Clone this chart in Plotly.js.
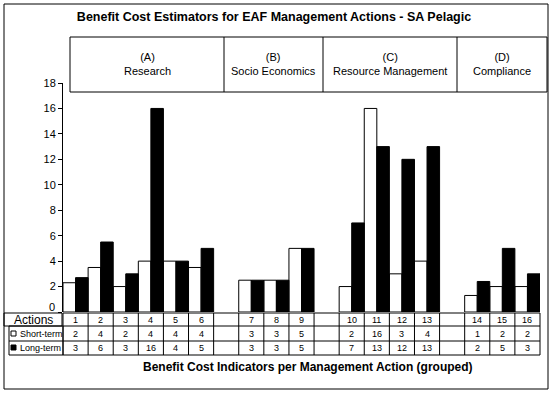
<!DOCTYPE html>
<html><head><meta charset="utf-8">
<script src="https://cdn.plot.ly/plotly-3.0.1.min.js"></script>
<style>html,body{margin:0;padding:0;background:#fff}#chart{width:553px;height:393px}</style>
</head><body><div id="chart"></div>
<script>
// ---- data ----
const chartTitle = 'Benefit Cost Estimators for EAF Management Actions - SA Pelagic';
const xTitle = 'Benefit Cost Indicators per Management Action (grouped)';
const groupCodes = ['(A)', '(B)', '(C)', '(D)'];
const groupNames = ['Research', 'Socio Economics', 'Resource Management', 'Compliance'];
const groupSizes = [6, 3, 4, 3];
const actions = ['1','2','3','4','5','6','7','8','9','10','11','12','13','14','15','16'];
const shortTerm = [2.3, 3.5, 2, 4, 4, 3.5, 2.5, 2.5, 5, 2, 16, 3, 4, 1.3, 2, 2];
const longTerm  = [2.7, 5.5, 3, 16, 4, 5, 2.5, 2.5, 5, 7, 13, 12, 13, 2.4, 5, 3];
const shortLabels = ['2','4','2','4','4','4','3','3','5','2','16','3','4','1','2','2'];
const longLabels  = ['3','6','3','16','4','5','3','3','5','7','13','12','13','2','5','3'];
const seriesNames = ['Short-term', 'Long-term'];
const rowHeader = 'Actions';
const yTicks = [0,2,4,6,8,10,12,14,16,18];
const yTickText = ['0','2','4','6','8','10','12','14','16','18'];

// ---- geometry ----
const W = 553, H = 393;
const M = {l: 63, r: 13, t: 83, b: 81};
const PW = W - M.l - M.r, PH = H - M.t - M.b;
const px = v => (v - M.l) / PW;
const py = v => (H - M.b - v) / PH;
const FONT = 'Arial, "Liberation Sans", sans-serif';

// slot positions: one empty slot between groups
const slots = [];
let s = 0;
groupSizes.forEach(n => { for (let i = 0; i < n; i++) { slots.push(s); s++; } s++; });
const nSlots = s - 1;

const traces = [
  {type: 'bar', x: slots, y: shortTerm, name: seriesNames[0],
   marker: {color: '#ffffff', line: {color: '#000', width: 1}}, hoverinfo: 'y'},
  {type: 'bar', x: slots, y: longTerm, name: seriesNames[1],
   marker: {color: '#000000', line: {color: '#000', width: 1}}, hoverinfo: 'y'}
];

const shapes = [];
const annotations = [];
const line = {color: '#000', width: 1};
const rectP = (x0, y0, x1, y1, fill) => shapes.push({type: 'rect', xref: 'paper', yref: 'paper',
  x0: px(x0), x1: px(x1), y0: py(y0), y1: py(y1), line: line, fillcolor: fill || 'rgba(0,0,0,0)'});
const lineP = (x0, y0, x1, y1) => shapes.push({type: 'line', xref: 'paper', yref: 'paper',
  x0: px(x0), x1: px(x1), y0: py(y0), y1: py(y1), line: line});

// outer border
rectP(4, 4, 548, 389);
// header box with group cells
const hdrTop = 37, hdrBot = 92, hdrLeft = 70, hdrRight = 547;
const hdrDiv = [224, 323, 457];
rectP(hdrLeft, hdrTop, hdrRight, hdrBot);
hdrDiv.forEach(d => lineP(d, hdrTop, d, hdrBot));
const edges = [hdrLeft].concat(hdrDiv, [hdrRight]);
groupCodes.forEach((c, i) => annotations.push({xref: 'paper', yref: 'paper',
  x: px((edges[i] + edges[i + 1]) / 2), y: py(64), xanchor: 'center', yanchor: 'middle',
  text: c + '<br>' + groupNames[i], showarrow: false, font: {family: FONT, size: 11, color: '#000'}}));

// data table
const rows = [313, 326, 341, 355];
const tblL = 63, tblR = 540;
rows.forEach(r => lineP(tblL, r, tblR, r));
lineP(tblL, rows[0], tblL, rows[3]);
lineP(tblR, rows[0], tblR, rows[3]);
for (let k = 1; k < nSlots; k++) {
  shapes.push({type: 'line', xref: 'x', yref: 'paper', x0: k - 0.5, x1: k - 0.5,
    y0: py(rows[0]), y1: py(rows[3]), line: line});
}
rectP(4, rows[0], 62, rows[1]);
rectP(9, rows[1], tblL, rows[3]);
lineP(9, rows[2], tblL, rows[2]);
// legend keys
rectP(11, 331, 16, 336, '#ffffff');
rectP(11, 345, 16, 350, '#000000');
annotations.push({xref: 'paper', yref: 'paper', x: px(33), y: py(320), xanchor: 'center', yanchor: 'middle',
  text: rowHeader, showarrow: false, font: {family: FONT, size: 12, color: '#000'}});
seriesNames.forEach((n, i) => annotations.push({xref: 'paper', yref: 'paper', x: px(17.5),
  y: py(i === 0 ? 333.5 : 348), xanchor: 'left', yanchor: 'middle', text: n, showarrow: false,
  font: {family: FONT, size: 9, color: '#000'}}));
const rowY = [319.5, 333.5, 348];
const rowText = [actions, shortLabels, longLabels];
rowText.forEach((arr, r) => arr.forEach((t, i) => annotations.push({xref: 'x', yref: 'paper',
  x: slots[i], y: py(rowY[r]), xanchor: 'center', yanchor: 'middle', text: t, showarrow: false,
  font: {family: FONT, size: 9, color: '#000'}})));

// zero tick label sits just above the "Actions" box (as in the original)
annotations.push({xref: 'paper', yref: 'paper', x: px(57), y: py(306.5), xanchor: 'right', yanchor: 'middle',
  text: yTickText[0], showarrow: false, font: {family: FONT, size: 11, color: '#000'}});

// x-axis title below the table
annotations.push({xref: 'paper', yref: 'paper', x: px(308), y: py(367), xanchor: 'center', yanchor: 'middle',
  text: '<b>' + xTitle + '</b>', showarrow: false, font: {family: FONT, size: 12, color: '#000'}});

const layout = {
  width: W, height: H, margin: M,
  paper_bgcolor: '#fff', plot_bgcolor: '#fff',
  showlegend: false,
  barmode: 'group', bargap: 0, bargroupgap: 0,
  title: {text: '<b>' + chartTitle + '</b>', xref: 'paper', x: px(274), xanchor: 'center',
    yref: 'container', y: 1 - 17 / H, yanchor: 'middle', font: {family: FONT, size: 12.5, color: '#000'}},
  xaxis: {range: [-0.5, nSlots - 0.5], showticklabels: false, showgrid: false, zeroline: false,
    showline: false, ticks: '', fixedrange: true},
  yaxis: {range: [0, 18], tickvals: yTicks, ticktext: yTickText.map((t, i) => i === 0 ? '' : t),
    ticks: 'outside', ticklen: 4, tickcolor: '#000', tickwidth: 1,
    showline: true, linecolor: '#000', linewidth: 1, showgrid: false, zeroline: false,
    tickfont: {family: FONT, size: 11, color: '#000'}, fixedrange: true},
  shapes: shapes, annotations: annotations
};
Plotly.newPlot('chart', traces, layout, {displayModeBar: false, staticPlot: true});
</script></body></html>
